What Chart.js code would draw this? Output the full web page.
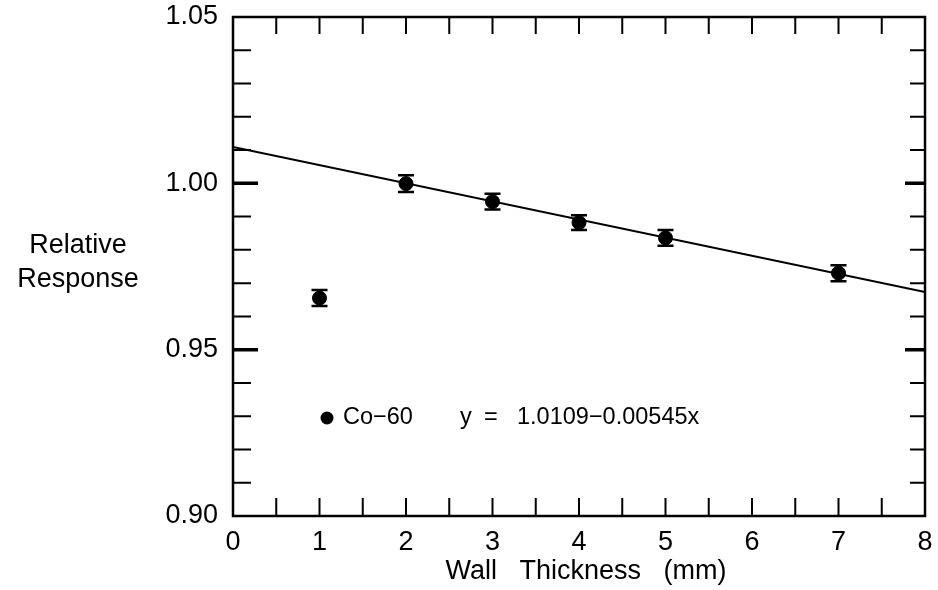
<!DOCTYPE html>
<html>
<head>
<meta charset="utf-8">
<script src="https://cdn.jsdelivr.net/npm/chart.js@4.4.1/dist/chart.umd.min.js"></script>
<style>
  body { margin: 0; background: #fff; }
  canvas { display: block; }
</style>
</head>
<body>
<canvas id="mycanvas" width="938" height="590"></canvas>
<script>
// measured points (Co-60)
var wallThickness = [1, 2, 3, 4, 5, 7];
var relResponse = [0.9655, 0.9999, 0.9945, 0.9882, 0.9836, 0.9730];
var errBar = [0.0024, 0.0025, 0.0024, 0.0022, 0.0024, 0.0024];

// fitted line, end points
var fitX = [0, 8];
var fitY = [1.0109, 0.9673];

var xTicks = [0, 1, 2, 3, 4, 5, 6, 7, 8];
var yTicks = [0.90, 0.95, 1.00, 1.05];

var FONT = "'Liberation Sans', Arial, Helvetica, sans-serif";

var points = [];
for (var i = 0; i < wallThickness.length; i++) {
    points.push({x: wallThickness[i], y: relResponse[i]});
}
var fitLine = [];
for (var j = 0; j < fitX.length; j++) {
    fitLine.push({x: fitX[j], y: fitY[j]});
}

var framePlugin = {
    id: "frame",
    beforeDraw: function(chart){
        var c = chart.ctx;
        c.save();
        c.fillStyle = "#fff";
        c.fillRect(0, 0, chart.width, chart.height);
        c.restore();
    },
    afterDatasetsDraw: function(chart){
        var c = chart.ctx;
        var a = chart.chartArea;
        var xs = chart.scales.x;
        var ys = chart.scales.y;

        c.save();
        c.strokeStyle = "#000";

        // error bars
        c.lineWidth = 2.5;
        for (var i = 0; i < relResponse.length; i++) {
            var px = xs.getPixelForValue(wallThickness[i]);
            var top = ys.getPixelForValue(relResponse[i] + errBar[i]);
            var bot = ys.getPixelForValue(relResponse[i] - errBar[i]);
            c.beginPath();
            c.moveTo(px, top); c.lineTo(px, bot);
            c.moveTo(px - 8, top); c.lineTo(px + 8, top);
            c.moveTo(px - 8, bot); c.lineTo(px + 8, bot);
            c.stroke();
        }

        // frame
        c.lineWidth = 2.5;
        c.strokeRect(a.left, a.top, a.right - a.left, a.bottom - a.top);

        // x ticks, inward, bottom and top
        c.lineWidth = 2;
        for (var v = 0.5; v < 8; v += 0.5) {
            var x = xs.getPixelForValue(v);
            c.beginPath();
            c.moveTo(x, a.bottom); c.lineTo(x, a.bottom - 18);
            c.moveTo(x, a.top); c.lineTo(x, a.top + 17);
            c.stroke();
        }

        // y ticks, inward, left and right
        for (var k = 1; k < 15; k++) {
            var val = 0.90 + k * 0.01;
            var y = ys.getPixelForValue(val);
            var major = (k % 5 === 0);
            c.lineWidth = major ? 3.5 : 2;
            c.beginPath();
            c.moveTo(a.left, y); c.lineTo(a.left + (major ? 25 : 18), y);
            c.moveTo(a.right, y); c.lineTo(a.right - (major ? 20 : 15), y);
            c.stroke();
        }

        // legend inside the plot
        c.fillStyle = "#000";
        c.beginPath();
        c.arc(327, 418, 6.5, 0, Math.PI * 2);
        c.fill();
        c.font = "23.5px " + FONT;
        c.textBaseline = "middle";
        c.textAlign = "left";
        c.fillText("Co\u221260", 343, 418);
        c.fillText("y", 460, 418);
        c.fillText("=", 484, 418);
        c.fillText("1.0109\u22120.00545x", 517, 418);

        // axis titles
        c.font = "27px " + FONT;
        c.textAlign = "center";
        c.fillText("Relative", 78, 246);
        c.fillText("Response", 78, 280);
        c.fillText("Wall   Thickness   (mm)", 586, 572);
        c.restore();
    }
};

var ctx = document.getElementById("mycanvas");

var chart = new Chart(ctx, {
    type: "scatter",
    data: {
        datasets: [
            {
                label: "Co-60",
                data: points,
                backgroundColor: "#000",
                borderColor: "#000",
                pointRadius: 7,
                pointHoverRadius: 7,
                showLine: false
            },
            {
                label: "fit",
                data: fitLine,
                borderColor: "#000",
                borderWidth: 2,
                pointRadius: 0,
                showLine: true,
                fill: false
            }
        ]
    },
    options: {
        responsive: false,
        animation: false,
        events: [],
        layout: { autoPadding: false, padding: { top: 17, right: 13, left: 0, bottom: 0 } },
        plugins: {
            legend: { display: false },
            tooltip: { enabled: false }
        },
        scales: {
            x: {
                type: "linear",
                min: 0,
                max: 8,
                afterFit: function(s){
                    s.height = 74;
                    s.paddingLeft = 0; s.paddingRight = 0;
                },
                afterBuildTicks: function(s){
                    s.ticks = xTicks.map(function(v){ return {value: v}; });
                },
                grid: { display: false, drawTicks: false },
                border: { display: false },
                ticks: {
                    color: "#000",
                    padding: 10,
                    font: { size: 27, family: FONT },
                    callback: function(v){ return String(v); }
                }
            },
            y: {
                type: "linear",
                min: 0.90,
                max: 1.05,
                afterFit: function(s){
                    s.width = 233;
                    s.paddingTop = 0; s.paddingBottom = 0;
                },
                afterBuildTicks: function(s){
                    s.ticks = yTicks.map(function(v){ return {value: v}; });
                },
                grid: { display: false, drawTicks: false },
                border: { display: false },
                ticks: {
                    color: "#000",
                    padding: 15,
                    font: { size: 27, family: FONT },
                    callback: function(v){ return Number(v).toFixed(2); }
                }
            }
        }
    },
    plugins: [framePlugin]
});
</script>
</body>
</html>
